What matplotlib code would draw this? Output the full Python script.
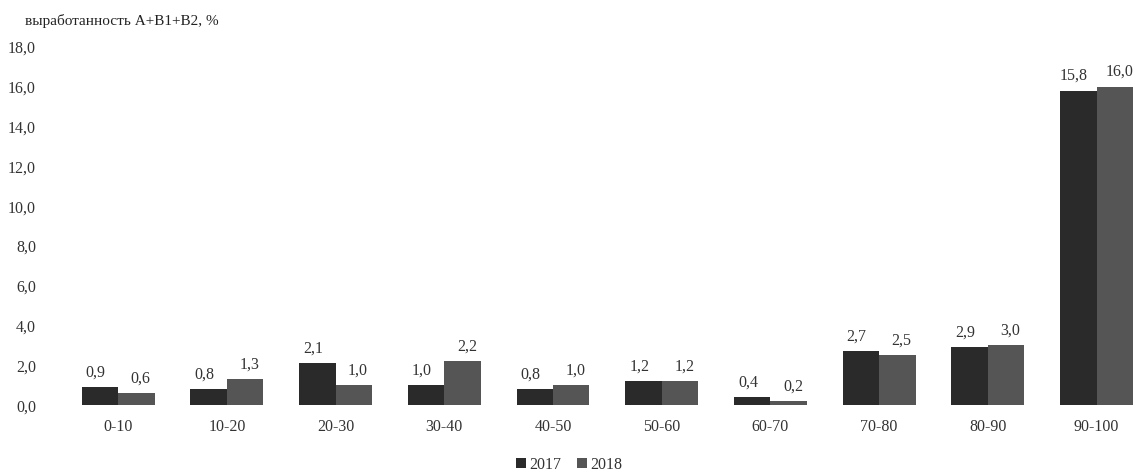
import numpy as np
import matplotlib.pyplot as plt

plt.rcParams['font.family'] = ['Liberation Serif', 'DejaVu Serif']

# данные
kategorii = ['0-10', '10-20', '20-30', '30-40', '40-50', '50-60', '60-70', '70-80', '80-90', '90-100']
v2017 = [0.9, 0.8, 2.1, 1.0, 0.8, 1.2, 0.4, 2.7, 2.9, 15.8]
v2018 = [0.6, 1.3, 1.0, 2.2, 1.0, 1.2, 0.2, 2.5, 3.0, 16.0]
yticks = [0, 2, 4, 6, 8, 10, 12, 14, 16, 18]


def fmt(v):
    return f'{v:.1f}'.replace('.', ',')


fig = plt.figure(figsize=(11.39, 4.75), dpi=100)
ax = fig.add_axes([0.056, 0.147, 0.944, 0.754])

x = np.arange(len(kategorii))
w = 0.335
b1 = ax.bar(x - w / 2, v2017, w, color='#2a2a2a', label='2017')
b2 = ax.bar(x + w / 2, v2018, w, color='#555555', label='2018')

for rect, v in zip(b1, v2017):
    ax.text(rect.get_x() + rect.get_width() / 2 - 0.04, v + 0.35, fmt(v),
            ha='center', va='bottom', fontsize=11.5, color='#333333')
for rect, v in zip(b2, v2018):
    ax.text(rect.get_x() + rect.get_width() / 2 + 0.04, v + 0.35, fmt(v),
            ha='center', va='bottom', fontsize=11.5, color='#333333')

ax.set_xlim(-0.5, 9.39)
ax.set_ylim(0, 18)
ax.set_yticks(yticks)
ax.set_yticklabels([fmt(t) for t in yticks], fontsize=11.5, color='#333333')
ax.set_xticks(x)
ax.set_xticklabels(kategorii, fontsize=11.5, color='#333333')
ax.tick_params(length=0, pad=10)
ax.tick_params(axis='y', pad=20)
for s in ax.spines.values():
    s.set_visible(False)

fig.text(0.022, 0.955, 'выработанность А+В1+В2, %', fontsize=11, color='#222222',
         ha='left', va='center')

ax.legend(loc='upper center', bbox_to_anchor=(0.47, -0.118), ncol=2, frameon=False,
          fontsize=11.5, handlelength=0.6, handleheight=0.6, handletextpad=0.2,
          columnspacing=1.0, labelcolor='#333333', borderpad=0.1)

fig.savefig('out.png', dpi=100)
